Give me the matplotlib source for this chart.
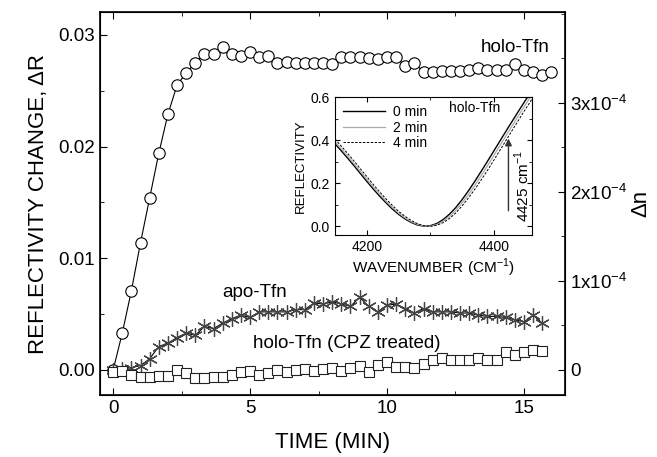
import numpy as np
import matplotlib.pyplot as plt
from matplotlib.ticker import MultipleLocator

plt.rcParams['font.family'] = ['Liberation Sans', 'DejaVu Sans']
plt.rcParams['mathtext.fontset'] = 'custom'
plt.rcParams['mathtext.rm'] = 'Liberation Sans'

# time grid (min), one point every 20 s
t = np.arange(49) / 3.0

# reflectivity change, holo-Tfn
holo = [0.0000, 0.0033, 0.0071, 0.0114, 0.0154, 0.0194, 0.0229, 0.0255, 0.0266, 0.0275,
        0.0283, 0.0283, 0.0289, 0.0283, 0.0281, 0.0285, 0.0280, 0.0281, 0.0275, 0.0276,
        0.0275, 0.0275, 0.0275, 0.0275, 0.0274, 0.0280, 0.0280, 0.0280, 0.0279, 0.0278,
        0.0280, 0.0280, 0.0272, 0.0275, 0.0267, 0.0267, 0.0268, 0.0268, 0.0268, 0.0269,
        0.0270, 0.0269, 0.0269, 0.0269, 0.0274, 0.0269, 0.0267, 0.0264, 0.0267]

# apo-Tfn
apo = [0.0000, 0.0001, 0.0002, 0.0004, 0.0010, 0.0021, 0.0024, 0.0029, 0.0033, 0.0031,
       0.0039, 0.0037, 0.0042, 0.0046, 0.0049, 0.0047, 0.0052, 0.0052, 0.0052, 0.0052,
       0.0054, 0.0054, 0.0060, 0.0059, 0.0061, 0.0059, 0.0057, 0.0065, 0.0057, 0.0052,
       0.0058, 0.0059, 0.0055, 0.0051, 0.0055, 0.0052, 0.0052, 0.0052, 0.0051, 0.0051,
       0.0049, 0.0048, 0.0048, 0.0047, 0.0045, 0.0043, 0.0049, 0.0042]

# holo-Tfn, CPZ treated
cpz = [-0.00015, -0.0001, -0.00045, -0.00065, -0.00065, -0.00054, -0.00054, 0.0, -0.0003, -0.00074,
       -0.00074, -0.0006, -0.00065, -0.00045, -0.00015, -0.0001, -0.00045, -0.0003, 0.0, -0.00015,
       0.0, 0.0001, -0.0001, 0.0001, 0.00015, -0.0001, 0.00015, 0.0004, -0.00015, 0.00045,
       0.00074, 0.00024, 0.00024, 0.00015, 0.00054, 0.0009, 0.0011, 0.0009, 0.0009, 0.0009,
       0.0011, 0.0009, 0.0009, 0.0016, 0.0013, 0.0016, 0.0018, 0.0017]

# inset spectra
wn = np.arange(4150, 4461, 10)
r0 = [0.383, 0.350, 0.316, 0.281, 0.245, 0.209, 0.174, 0.141, 0.110, 0.081, 0.056, 0.035,
      0.018, 0.006, 0.001, 0.003, 0.013, 0.031, 0.056, 0.087, 0.124, 0.165, 0.209, 0.255,
      0.302, 0.350, 0.398, 0.446, 0.493, 0.540, 0.586, 0.630]
r2 = [0.393, 0.360, 0.326, 0.291, 0.255, 0.219, 0.184, 0.150, 0.118, 0.089, 0.062, 0.040,
      0.022, 0.009, 0.002, 0.001, 0.008, 0.023, 0.045, 0.074, 0.109, 0.148, 0.190, 0.235,
      0.281, 0.329, 0.377, 0.425, 0.472, 0.519, 0.566, 0.611]
r4 = [0.405, 0.372, 0.338, 0.303, 0.267, 0.231, 0.195, 0.161, 0.128, 0.098, 0.070, 0.047,
      0.027, 0.012, 0.003, 0.000, 0.005, 0.017, 0.036, 0.062, 0.095, 0.132, 0.172, 0.215,
      0.260, 0.307, 0.355, 0.403, 0.451, 0.498, 0.545, 0.590]

dn_ticks = [0, 1e-4, 2e-4, 3e-4]
dn_labels = ['0', r'1x10$^{-4}$', r'2x10$^{-4}$', r'3x10$^{-4}$']
scale = 0.01255  # dn per dR

fig = plt.figure(figsize=(6.57, 4.57), dpi=100)
ax = fig.add_axes([0.1522, 0.1357, 0.7078, 0.838])

ax.plot(t, holo, '-', color='black', lw=0.8, marker='o', ms=8.2, mfc='white', mec='black', mew=0.8)
ax.plot(t[:len(apo)], apo, '-', color='black', lw=0.8, marker=(6, 2, 0), ms=10.5, mec='#444444', mew=0.9)
ax.plot(t[:len(cpz)], cpz, '-', color='#333333', lw=0.6, marker='s', ms=7.5, mfc='white', mec='#222222', mew=0.8)

ax.set_xlim(-0.48, 16.5)
ax.set_ylim(-0.00224, 0.03205)
ax.xaxis.set_major_locator(MultipleLocator(5))
ax.xaxis.set_minor_locator(MultipleLocator(2.5))
ax.yaxis.set_major_locator(MultipleLocator(0.01))
ax.yaxis.set_minor_locator(MultipleLocator(0.005))
ax.yaxis.set_major_formatter(plt.FormatStrFormatter('%.2f'))
ax.tick_params(which='both', direction='in', top=True, right=False, labelsize=13.5)
ax.tick_params(which='major', length=5)
ax.tick_params(which='minor', length=3)
ax.set_xlabel('TIME (MIN)', fontsize=16, labelpad=11)
ax.set_ylabel('REFLECTIVITY CHANGE, ΔR', fontsize=16, labelpad=7)
for s in ax.spines.values():
    s.set_linewidth(1.2)

ax.text(15.95, 0.0289, 'holo-Tfn', fontsize=13.5, ha='right', va='center')
ax.text(5.17, 0.0069, 'apo-Tfn', fontsize=13.5, ha='center', va='center')
ax.text(8.53, 0.0024, 'holo-Tfn (CPZ treated)', fontsize=13.5, ha='center', va='center')

ax2 = ax.twinx()
ax2.set_ylim(-0.00224 * scale, 0.03205 * scale)
ax2.set_yticks(dn_ticks)
ax2.set_yticklabels(dn_labels)
ax2.yaxis.set_minor_locator(MultipleLocator(0.5e-4))
ax2.tick_params(which='both', direction='in', labelsize=13.5)
ax2.tick_params(which='major', length=5)
ax2.tick_params(which='minor', length=3)
ax2.set_ylabel('Δn', fontsize=16, labelpad=2)

# inset
ins = fig.add_axes([0.5099, 0.4858, 0.2998, 0.3019])
ins.plot(wn, r0, '-', color='black', lw=1.0, label='0 min')
ins.plot(wn, r2, '-', color='#aaaaaa', lw=0.9, label='2 min')
ins.plot(wn, r4, '--', color='black', lw=0.7, dashes=(2.5, 1.5), label='4 min')
ins.set_xlim(4150, 4460)
ins.set_ylim(-0.04, 0.6)
ins.xaxis.set_major_locator(MultipleLocator(200))
ins.xaxis.set_minor_locator(MultipleLocator(100))
ins.yaxis.set_major_locator(MultipleLocator(0.2))
ins.yaxis.set_minor_locator(MultipleLocator(0.1))
ins.yaxis.set_major_formatter(plt.FormatStrFormatter('%.1f'))
ins.tick_params(which='both', direction='in', top=True, right=True, labelsize=10)
ins.tick_params(which='major', length=3.5)
ins.tick_params(which='minor', length=2)
ins.set_xlabel('WAVENUMBER (CM$^{-1}$)', fontsize=11, labelpad=2)
ins.set_ylabel('REFLECTIVITY', fontsize=9.5, labelpad=3)
ins.legend(loc='upper left', frameon=False, fontsize=10, handlelength=3.0,
           borderaxespad=0.2, labelspacing=0.1, handletextpad=0.6)
ins.text(0.71, 0.92, 'holo-Tfn', transform=ins.transAxes, fontsize=10, ha='center', va='center')
ins.annotate('', xy=(4423, 0.42), xytext=(4423, 0.06),
             arrowprops=dict(arrowstyle='-|>', color='#333333', lw=1.0, mutation_scale=10))
ins.text(4445, 0.19, '4425 cm$^{-1}$', rotation=90, fontsize=11, ha='center', va='center')

fig.savefig('out.png', dpi=100)
